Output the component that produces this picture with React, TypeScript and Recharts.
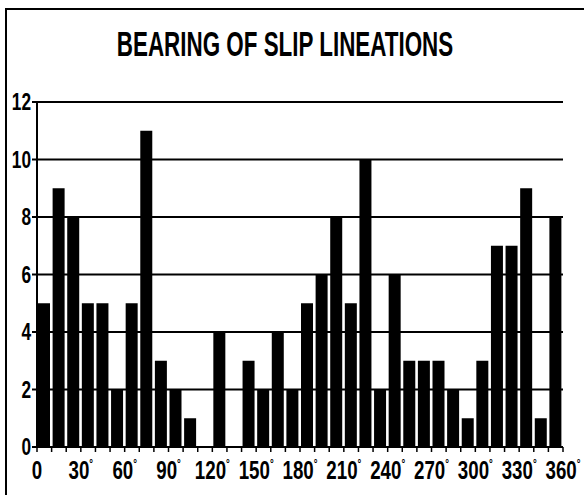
import { BarChart, Bar, XAxis, YAxis, CartesianGrid } from 'recharts'

// bin centres in degrees (10° bins)
const binMid = [5, 15, 25, 35, 45, 55, 65, 75, 85, 95, 105, 115, 125, 135, 145, 155, 165, 175,
  185, 195, 205, 215, 225, 235, 245, 255, 265, 275, 285, 295, 305, 315, 325, 335, 345, 355]
const counts = [5, 9, 8, 5, 5, 2, 5, 11, 3, 2, 1, 0, 4, 0, 3, 2, 4, 2,
  5, 6, 8, 5, 10, 2, 6, 3, 3, 3, 2, 1, 3, 7, 7, 9, 1, 8]
const xTicks = [0, 10, 20, 30, 40, 50, 60, 70, 80, 90, 100, 110, 120, 130, 140, 150, 160, 170, 180,
  190, 200, 210, 220, 230, 240, 250, 260, 270, 280, 290, 300, 310, 320, 330, 340, 350, 360]
const xLabels = [0, 30, 60, 90, 120, 150, 180, 210, 240, 270, 300, 330, 360]
const yTicks = [0, 2, 4, 6, 8, 10, 12]

const data = binMid.map((m, i) => ({ mid: m, n: counts[i] }))

const FONT = "'Liberation Sans', Arial, sans-serif"
const SQUEEZE = 0.72

const XTick = ({ x, y, payload }: any) => {
  const v = payload.value
  if (!xLabels.includes(v)) return null
  return (
    <text transform={`translate(${x},${y + 25}) scale(${SQUEEZE},1)`} textAnchor="middle"
      fontFamily={FONT} fontWeight="bold" fontSize={26} fill="#000">
      {v}
      {v !== 0 && <tspan fontSize={13} dy={-11}>°</tspan>}
    </text>
  )
}

const YTick = ({ x, y, payload }: any) => (
  <text transform={`translate(${x + 1},${y + 8}) scale(${SQUEEZE},1)`} textAnchor="end"
    fontFamily={FONT} fontWeight="bold" fontSize={24} fill="#000">
    {payload.value}
  </text>
)

export default function App() {
  return (
    <div style={{ position: 'absolute', left: 0, top: 0, width: 584, height: 495, background: '#fff' }}>
      <div style={{
        position: 'absolute', left: 5, top: 8, width: 577, height: 485,
        border: '2px solid #000',
      }} />
      <div style={{
        position: 'absolute', left: 0, width: 570, top: 24, textAlign: 'center',
        fontFamily: FONT, fontWeight: 'bold', fontSize: 35, color: '#000', lineHeight: '40px',
        transform: 'scaleX(0.64)', transformOrigin: '285px 0',
      }}>
        BEARING OF SLIP LINEATIONS
      </div>
      <BarChart width={584} height={495} data={data} margin={{ top: 102, right: 21, bottom: 0, left: 5 }}>
        <CartesianGrid vertical={false} stroke="#000" strokeWidth={2} />
        <XAxis
          dataKey="mid" type="number" domain={[0, 360]} ticks={xTicks} interval={0}
          axisLine={{ stroke: '#000', strokeWidth: 2 }} tickLine={{ stroke: '#000', strokeWidth: 1.5 }}
          tickSize={5} height={48} tick={<XTick />}
        />
        <YAxis
          domain={[0, 12]} ticks={yTicks} interval={0} width={32}
          axisLine={{ stroke: '#000', strokeWidth: 2 }} tickLine={{ stroke: '#000', strokeWidth: 2 }}
          tickSize={5} tick={<YTick />}
        />
        <Bar dataKey="n" fill="#000" barSize={12} isAnimationActive={false} />
      </BarChart>
    </div>
  )
}
